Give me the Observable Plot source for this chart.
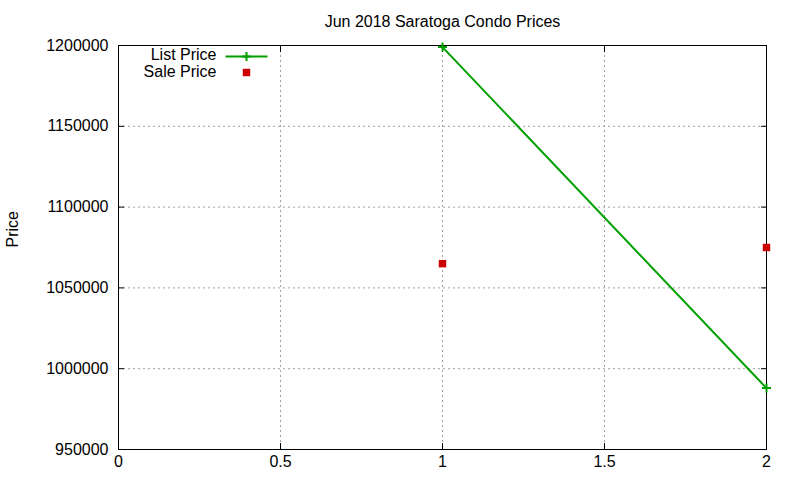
<!DOCTYPE html>
<html>
<head>
<meta charset="utf-8">
<script src="https://cdn.jsdelivr.net/npm/d3@7"></script>
<script src="https://cdn.jsdelivr.net/npm/@observablehq/plot@0.6"></script>
<style>
  html, body { margin: 0; padding: 0; background: #fff; }
  svg { display: block; }
</style>
</head>
<body>
<div id="chart"></div>
<script>
const title = "Jun 2018 Saratoga Condo Prices";
const yLabel = "Price";
const seriesNames = ["List Price", "Sale Price"];
const xValues = [1, 2];
const listPrice = [1199000, 988000];
const salePrice = [1065000, 1075000];
const xTicks = [0, 0.5, 1, 1.5, 2];
const yTicks = [950000, 1000000, 1050000, 1100000, 1150000, 1200000];

const green = "#00a000";
const red = "#cc0000";
const font = "'Liberation Sans', Arial, sans-serif";
const fs = 16;

const listData = xValues.map((x, i) => ({x, y: listPrice[i]}));
const saleData = xValues.map((x, i) => ({x, y: salePrice[i]}));

const lineSymbol = {draw(ctx) { ctx.moveTo(-21, 0); ctx.lineTo(21, 0); }};
const plusSymbol = {draw(ctx) { ctx.moveTo(-4.5, 0); ctx.lineTo(4.5, 0); ctx.moveTo(0, -4.5); ctx.lineTo(0, 4.5); }};

const chart = Plot.plot({
  width: 800,
  height: 480,
  marginLeft: 118,
  marginRight: 34,
  marginTop: 45,
  marginBottom: 31,
  style: {fontFamily: font, fontSize: fs + "px", color: "#000", background: "#fff"},
  x: {domain: [0, 2], ticks: xTicks},
  y: {domain: [950000, 1200000], ticks: yTicks},
  marks: [
    Plot.gridX(xTicks.slice(1, -1), {stroke: "#a0a0a0", strokeOpacity: 1, strokeDasharray: "2,3"}),
    Plot.gridY(yTicks.slice(1, -1), {stroke: "#a0a0a0", strokeOpacity: 1, strokeDasharray: "2,3"}),
    Plot.axisX(xTicks, {anchor: "bottom", tickSize: 0, tickPadding: 6, label: null, tickFormat: d => String(d), fontSize: fs}),
    Plot.axisY(yTicks, {anchor: "left", tickSize: 0, tickPadding: 10, label: null, tickFormat: d => String(d), fontSize: fs}),
    Plot.axisX(xTicks, {anchor: "bottom", tickSize: -6, text: null, label: null}),
    Plot.axisX(xTicks, {anchor: "top", tickSize: -6, text: null, label: null}),
    Plot.axisY(yTicks, {anchor: "left", tickSize: -6, text: null, label: null}),
    Plot.axisY(yTicks, {anchor: "right", tickSize: -6, text: null, label: null}),
    Plot.frame({stroke: "#000", strokeWidth: 1}),
    Plot.line(listData, {x: "x", y: "y", stroke: green, strokeWidth: 2}),
    Plot.dot(listData, {x: "x", y: "y", symbol: plusSymbol, stroke: green, strokeWidth: 2, r: 4.5}),
    Plot.dot(saleData, {x: "x", y: "y", symbol: "square", fill: red, r: 4.2}),
    // title
    Plot.text([title], {frameAnchor: "top", lineAnchor: "middle", dy: -24, text: d => d, fontSize: fs, fill: "#000"}),
    // y label
    Plot.text([yLabel], {frameAnchor: "left", dx: -106, rotate: -90, text: d => d, fontSize: fs, fill: "#000"}),
    // legend
    Plot.text([seriesNames[0]], {frameAnchor: "top-left", lineAnchor: "middle", dx: 98, dy: 9, textAnchor: "end", text: d => d, fontSize: fs, fill: "#000"}),
    Plot.text([seriesNames[1]], {frameAnchor: "top-left", lineAnchor: "middle", dx: 98, dy: 26, textAnchor: "end", text: d => d, fontSize: fs, fill: "#000"}),
    Plot.dot([seriesNames[0]], {frameAnchor: "top-left", dx: 128, dy: 11, symbol: lineSymbol, stroke: green, strokeWidth: 2, r: 4.5}),
    Plot.dot([seriesNames[0]], {frameAnchor: "top-left", dx: 128, dy: 11, symbol: plusSymbol, stroke: green, strokeWidth: 2, r: 4.5}),
    Plot.dot([seriesNames[1]], {frameAnchor: "top-left", dx: 128, dy: 27, symbol: "square", fill: red, r: 4.2})
  ]
});
document.getElementById("chart").appendChild(chart);
</script>
</body>
</html>
